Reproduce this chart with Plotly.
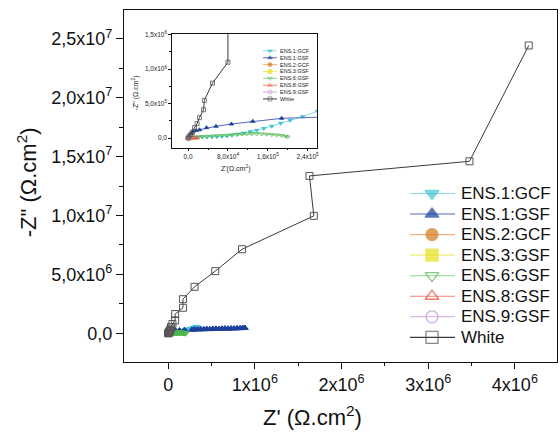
import plotly.graph_objects as go

FONT = "Liberation Sans, Arial, sans-serif"

# ---------------- data ----------------
series_names = ["ENS.1:GCF", "ENS.1:GSF", "ENS.2:GCF", "ENS.3:GSF",
                "ENS.6:GSF", "ENS.8:GSF", "ENS.9:GSF", "White"]

ens1_gcf_x = [0, 4e3, 1.0e4, 1.8e4, 2.8e4, 3.8e4, 4.8e4, 5.8e4, 6.8e4, 7.8e4, 8.8e4,
              1.0e5, 1.12e5, 1.25e5, 1.38e5, 1.52e5, 1.68e5, 1.86e5, 2.05e5, 2.3e5,
              2.6e5, 2.95e5, 3.3e5]
ens1_gcf_y = [0, 1.2e4, 1.6e4, 1.5e4, 1.4e4, 1.5e4, 1.7e4, 2.0e4, 2.4e4, 3.0e4, 4.2e4,
              5.6e4, 7.2e4, 9.2e4, 1.12e5, 1.38e5, 1.72e5, 2.15e5, 2.57e5, 3.1e5,
              3.9e5, 4.7e5, 5.5e5]

ens1_gsf_x = [0, 3e3, 7e3, 1.0e4, 1.6e4, 2.3e4, 3.7e4, 5.6e4, 8.7e4, 1.3e5, 1.88e5,
              2.75e5, 3.05e5, 3.4e5, 3.75e5, 4.1e5, 4.45e5, 4.8e5, 5.15e5, 5.5e5,
              5.85e5, 6.2e5, 6.55e5, 6.9e5, 7.25e5, 7.6e5, 7.95e5, 8.3e5, 8.6e5, 8.85e5]
ens1_gsf_y = [0, 3.5e4, 6.5e4, 9.7e4, 1.1e5, 1.2e5, 1.5e5, 1.7e5, 2.03e5, 2.42e5, 2.86e5,
              3.05e5, 3.35e5, 3.2e5, 3.5e5, 3.4e5, 3.7e5, 3.55e5, 3.8e5, 3.9e5,
              3.7e5, 4.0e5, 4.1e5, 3.9e5, 4.2e5, 4.1e5, 4.3e5, 4.4e5, 4.5e5, 4.6e5]

ens2_gcf_x = [0, 1.5e3, 3e3, 5e3]
ens2_gcf_y = [0, 2e3, 3e3, 3e3]

ens3_gsf_x = [0, 2e3, 4e3, 7e3, 1.0e4]
ens3_gsf_y = [0, 3e3, 5e3, 6e3, 6e3]

ens6_gsf_x = [0, 5e3, 1.0e4, 1.8e4, 2.8e4, 3.8e4, 4.8e4, 5.8e4, 6.8e4, 7.8e4, 8.8e4,
              9.8e4, 1.08e5, 1.18e5, 1.28e5, 1.38e5, 1.48e5, 1.58e5, 1.68e5, 1.78e5,
              1.88e5, 1.96e5, 2.0e5]
ens6_gsf_y = [0, 4e3, 8e3, 1.4e4, 2.0e4, 2.4e4, 2.9e4, 3.3e4, 3.7e4, 4.0e4, 4.5e4,
              5.0e4, 5.6e4, 6.1e4, 6.4e4, 6.3e4, 6.0e4, 5.6e4, 5.0e4, 4.4e4,
              3.6e4, 2.5e4, 1.5e4]

ens8_gsf_x = [0, 4e3, 8e3, 1.3e4, 1.9e4]
ens8_gsf_y = [0, 5e3, 5e3, 3e3, 1e3]

ens9_gsf_x = [0, 2e3, 4e3, 6e3]
ens9_gsf_y = [0, 4e3, 7e3, 9e3]

white_x = [0, 2e3, 5e3, 8.6e3, 1.3e4, 1.8e4, 2.26e4, 3.1e4, 3.26e4, 4.9e4, 8.0e4, 8.0e4,
           1.7e5, 1.7e5, 3.04e5, 5.43e5, 8.52e5, 1.68e6, 1.63e6, 3.476e6, 4.16e6]
white_y = [0, 2.5e4, 5e4, 8.7e4, 1.5e5, 2.08e5, 2.95e5, 4.1e5, 5.46e5, 7.97e5, 1.1e6, 1.64e6,
           2.17e6, 2.9e6, 3.95e6, 5.28e6, 7.14e6, 9.97e6, 1.336e7, 1.46e7, 2.443e7]

# tick labels
main_x_ticks = [0, 1e6, 2e6, 3e6, 4e6]
main_x_labels = ["0", "1x10<sup>6</sup>", "2x10<sup>6</sup>", "3x10<sup>6</sup>", "4x10<sup>6</sup>"]
main_y_ticks = [0, 5e6, 1e7, 1.5e7, 2e7, 2.5e7]
main_y_labels = ["0,0", "5,0x10<sup>6</sup>", "1,0x10<sup>7</sup>", "1,5x10<sup>7</sup>",
                 "2,0x10<sup>7</sup>", "2,5x10<sup>7</sup>"]
inset_x_ticks = [0, 8e4, 1.6e5, 2.4e5]
inset_x_labels = ["0,0", "8,0x10<sup>4</sup>", "1,6x10<sup>5</sup>", "2,4x10<sup>5</sup>"]
inset_y_ticks = [0, 5e5, 1e6, 1.5e6]
inset_y_labels = ["0,0", "5,0x10<sup>5</sup>", "1,0x10<sup>6</sup>", "1,5x10<sup>6</sup>"]

# ---------------- styles ----------------
xs = [ens1_gcf_x, ens1_gsf_x, ens2_gcf_x, ens3_gsf_x, ens6_gsf_x, ens8_gsf_x, ens9_gsf_x, white_x]
ys = [ens1_gcf_y, ens1_gsf_y, ens2_gcf_y, ens3_gsf_y, ens6_gsf_y, ens8_gsf_y, ens9_gsf_y, white_y]
symbols = ["triangle-down", "triangle-up", "circle", "square",
           "triangle-down-open", "triangle-up-open", "circle-open", "square-open"]
mcolors = ["#3ec3d3", "#1c3f9c", "#d4781e", "#e4e21e", "#4cb84c", "#e8452e", "#c184d4", "#555555"]
lcolors = ["#8ad9e4", "#5566c4", "#f2b27c", "#f2ee7a", "#92d892", "#f08474", "#d2a8e2", "#3a3a3a"]
main_lines = [0, 0, 0, 0, 0, 0, 0, 1.0]

W, H = 560, 438
L, R, T, B = 124, 557, 9.5, 362


def px(xp):
    return (xp - L) / (R - L)


def py(yp):
    return (B - yp) / (B - T)


fig = go.Figure()

# main plot traces
for i, name in enumerate(series_names):
    fig.add_trace(go.Scatter(
        x=xs[i], y=ys[i], name=name, showlegend=False,
        mode="lines+markers" if main_lines[i] else "markers",
        line=dict(color=lcolors[i], width=main_lines[i] or 1),
        marker=dict(symbol=symbols[i], size=7 if i == 7 else 6, color=mcolors[i],
                    line=dict(color=mcolors[i], width=1)),
        xaxis="x", yaxis="y"))

# inset traces
for i, name in enumerate(series_names):
    fig.add_trace(go.Scatter(
        x=xs[i], y=ys[i], name=name, showlegend=False, mode="lines+markers",
        line=dict(color=lcolors[i], width=1),
        marker=dict(symbol=symbols[i], size=4, color=mcolors[i],
                    line=dict(color=mcolors[i], width=0.8)),
        xaxis="x2", yaxis="y2"))

# legends drawn as small key axes: rows = series index
annotations = []
for i, name in enumerate(series_names):
    # main legend (x4/y4)
    fig.add_trace(go.Scatter(
        x=[0, 22, 45], y=[i, i, i], showlegend=False, mode="lines+markers",
        line=dict(color=lcolors[i], width=1.1),
        marker=dict(symbol=symbols[i], size=[0, 12, 0], color=mcolors[i],
                    line=dict(color=mcolors[i], width=1.3)),
        hoverinfo="skip", xaxis="x4", yaxis="y4"))
    annotations.append(dict(x=49, y=i, xref="x4", yref="y4", text=name, showarrow=False,
                            xanchor="left", yanchor="middle",
                            font=dict(family=FONT, size=17, color="#111")))
    # inset legend (x3/y3)
    fig.add_trace(go.Scatter(
        x=[0, 7, 14], y=[i, i, i], showlegend=False, mode="lines+markers",
        line=dict(color=lcolors[i], width=1),
        marker=dict(symbol=symbols[i], size=[0, 4, 0], color=mcolors[i],
                    line=dict(color=mcolors[i], width=0.8)),
        hoverinfo="skip", xaxis="x3", yaxis="y3"))
    annotations.append(dict(x=15, y=i, xref="x3", yref="y3", text=name, showarrow=False,
                            xanchor="left", yanchor="middle",
                            font=dict(family=FONT, size=5.5, color="#222")))

# axis titles
annotations.append(dict(x=px(312), y=py(416), xref="paper", yref="paper",
                        text="Z' (Ω.cm<sup>2</sup>)", showarrow=False,
                        xanchor="center", yanchor="middle",
                        font=dict(family=FONT, size=22, color="#111")))
annotations.append(dict(x=px(27), y=py(182), xref="paper", yref="paper",
                        text='-Z" (Ω.cm<sup>2</sup>)', showarrow=False, textangle=-90,
                        xanchor="center", yanchor="middle",
                        font=dict(family=FONT, size=22, color="#111")))
annotations.append(dict(x=px(236), y=py(168), xref="paper", yref="paper",
                        text="Z'(Ω.cm<sup>2</sup>)", showarrow=False,
                        xanchor="center", yanchor="middle",
                        font=dict(family=FONT, size=7, color="#222")))
annotations.append(dict(x=px(135), y=py(93), xref="paper", yref="paper",
                        text='-Z" (Ω.cm<sup>2</sup>)', showarrow=False, textangle=-90,
                        xanchor="center", yanchor="middle",
                        font=dict(family=FONT, size=7, color="#222")))

axis_common = dict(showgrid=False, zeroline=False, showline=True, linecolor="#111",
                   mirror=True, ticks="outside", tickcolor="#111", automargin=False)

fig.update_layout(
    width=W, height=H,
    margin=dict(l=L, r=W - R, t=T, b=H - B, autoexpand=False),
    paper_bgcolor="white", plot_bgcolor="white",
    font=dict(family=FONT, color="#111"),
    showlegend=False,
    xaxis=dict(domain=[0, 1], range=[-0.51e6, 4.486e6], tickmode="array",
               tickvals=main_x_ticks, ticktext=main_x_labels, ticklen=6, tickwidth=1,
               linewidth=1.2, tickfont=dict(family=FONT, size=18, color="#111"),
               minor=dict(tickmode="array", tickvals=[5e5, 1.5e6, 2.5e6, 3.5e6],
                          ticklen=3, ticks="outside", tickcolor="#111"),
               **axis_common),
    yaxis=dict(domain=[0, 1], range=[-2.43e6, 2.744e7], tickmode="array",
               tickvals=main_y_ticks, ticktext=main_y_labels, ticklen=7, tickwidth=1,
               linewidth=1.2, tickfont=dict(family=FONT, size=18, color="#111"),
               minor=dict(tickmode="array",
                          tickvals=[2.5e6, 7.5e6, 1.25e7, 1.75e7, 2.25e7],
                          ticklen=4, ticks="outside", tickcolor="#111"),
               **axis_common),
    xaxis2=dict(domain=[px(171.7), px(317)], anchor="y2", range=[-3.3e4, 2.59e5],
                tickmode="array", tickvals=inset_x_ticks, ticktext=inset_x_labels,
                ticklen=2.5, tickwidth=0.8, linewidth=0.8,
                tickfont=dict(family=FONT, size=6.5, color="#222"),
                minor=dict(tickmode="array", tickvals=[4e4, 1.2e5, 2.0e5],
                           ticklen=1.5, ticks="outside", tickcolor="#111"),
                **axis_common),
    yaxis2=dict(domain=[py(147.7), py(33.3)], anchor="x2", range=[-1.45e5, 1.513e6],
                tickmode="array", tickvals=inset_y_ticks, ticktext=inset_y_labels,
                ticklen=2.5, tickwidth=0.8, linewidth=0.8,
                tickfont=dict(family=FONT, size=6.5, color="#222"),
                minor=dict(tickmode="array", tickvals=[2.5e5, 7.5e5, 1.25e6],
                           ticklen=1.5, ticks="outside", tickcolor="#111"),
                **axis_common),
    xaxis3=dict(domain=[px(263), px(310)], anchor="y3", range=[0, 47], visible=False,
                fixedrange=True),
    yaxis3=dict(domain=[py(102), py(47)], anchor="x3", range=[7.5, -0.5], visible=False,
                fixedrange=True),
    xaxis4=dict(domain=[px(410), px(555)], anchor="y4", range=[0, 145], visible=False,
                fixedrange=True),
    yaxis4=dict(domain=[py(347.6), py(183)], anchor="x4", range=[7.5, -0.5], visible=False,
                fixedrange=True),
    annotations=annotations,
)

fig.write_html("out.html", config={"displayModeBar": False},
               post_script="document.body.style.margin='0';")
